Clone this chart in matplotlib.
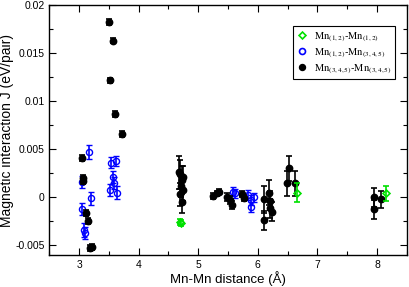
import matplotlib
matplotlib.use("Agg")
import matplotlib.pyplot as plt
from matplotlib.ticker import MultipleLocator
from matplotlib.lines import Line2D

plt.rcParams['font.family'] = ['Liberation Sans', 'DejaVu Sans']
plt.rcParams['mathtext.fontset'] = 'stix'

# Mn(1,2)-Mn(1,2): green open diamonds
g_x = [4.69, 4.71, 6.655, 8.15]
g_y = [-0.0026, -0.0027, 0.00048, 0.0004]
g_e = [0.0003, 0.0003, 0.0010, 0.0008]

# Mn(1,2)-Mn(3,4,5): blue open circles
b_x = [3.17, 3.045, 3.196, 3.045, 3.09, 3.10,
       3.536, 3.62, 3.564, 3.59, 3.52, 3.64,
       5.585, 5.625, 5.836, 5.89, 5.89, 5.93]
b_y = [0.0047, 0.0016, -0.0001, -0.0012, -0.0034, -0.0037,
       0.0036, 0.0038, 0.0021, 0.0015, 0.00076, 0.0005,
       0.0006, 0.0004, 0.00024, -0.0003, -0.0010, 0.0]
b_e = [0.0007, 0.0006, 0.0007, 0.0006, 0.0007, 0.0006,
       0.0006, 0.0005, 0.0006, 0.0006, 0.0006, 0.0007,
       0.0005, 0.0005, 0.0005, 0.0005, 0.0005, 0.0005]

# Mn(3,4,5)-Mn(3,4,5): black filled circles
k_x = [3.497, 3.57, 3.52, 3.61, 3.72,
       3.045, 3.06, 3.065, 3.12, 3.15, 3.18, 3.22,
       4.68, 4.70, 4.72, 4.74, 4.71, 4.75, 4.70, 4.72,
       5.25, 5.31, 5.345, 5.48, 5.53, 5.57, 5.74, 5.76,
       6.10, 6.10, 6.18, 6.20, 6.21, 6.245,
       6.52, 6.49, 6.63,
       7.958, 7.958, 8.07]
k_y = [0.0182, 0.0163, 0.01215, 0.0087, 0.0066,
       0.0041, 0.0020, 0.0017, -0.0016, -0.0025, -0.0053, -0.0052,
       0.0026, 0.0024, 0.0018, 0.0021, 0.0012, 0.0008, 0.0003, -0.0005,
       0.00014, 0.0004, 0.0006, 0.00006, -0.0003, -0.0008, 0.00035, -0.0001,
       -0.0002, -0.0024, 0.0005, -0.00035, -0.00115, -0.0015,
       0.0030, 0.00146, 0.00146,
       0.0, -0.00125, -0.0002]
k_e = [0.0003, 0.0003, 0.0003, 0.0003, 0.0003,
       0.0003, 0.0003, 0.0003, 0.0003, 0.0003, 0.0003, 0.0003,
       0.0017, 0.0015, 0.0015, 0.0012, 0.0012, 0.0012, 0.0012, 0.0011,
       0.0003, 0.0003, 0.0003, 0.0004, 0.0004, 0.0004, 0.0003, 0.0003,
       0.0014, 0.0010, 0.0013, 0.0010, 0.0010, 0.0010,
       0.0013, 0.0013, 0.0013,
       0.0010, 0.0010, 0.0009]

legend_labels = [r'$\mathrm{Mn}_{(1,2)}$-$\mathrm{Mn}_{(1,2)}$',
                 r'$\mathrm{Mn}_{(1,2)}$-$\mathrm{Mn}_{(3,4,5)}$',
                 r'$\mathrm{Mn}_{(3,4,5)}$-$\mathrm{Mn}_{(3,4,5)}$']

fig = plt.figure(figsize=(4.09, 2.87), dpi=100)
ax = fig.add_axes([0.1205, 0.1115, 0.874, 0.871])

ax.errorbar(k_x, k_y, yerr=k_e, fmt='o', color='black', ms=4.6,
            elinewidth=1.2, capsize=2.5, capthick=1.2, zorder=3)
ax.errorbar(b_x, b_y, yerr=b_e, fmt='o', color='#0000ff', mfc='none', mec='#0000ff',
            ms=4.4, mew=1.0, elinewidth=1.2, capsize=2.5, capthick=1.2, zorder=2)
ax.errorbar(g_x, g_y, yerr=g_e, fmt='D', color='#00e000', mfc='none', mec='#00e000',
            ms=3.5, mew=1.2, elinewidth=1.2, capsize=2.5, capthick=1.2, zorder=4)

ax.set_xlim(2.5, 8.5)
ax.set_ylim(-0.006, 0.02)
ax.xaxis.set_major_locator(MultipleLocator(1))
ax.xaxis.set_minor_locator(MultipleLocator(0.5))
ax.yaxis.set_minor_locator(MultipleLocator(0.0025))
ax.set_yticks([-0.005, 0, 0.005, 0.01, 0.015, 0.02])
ax.set_yticklabels(['-0.005', '0', '0.005', '0.01', '0.015', '0.02'])
ax.tick_params(which='both', direction='in', top=True, right=True, labelsize=7.5)
ax.tick_params(which='major', length=5, width=0.8)
ax.tick_params(which='minor', length=3, width=0.8)
for s in ax.spines.values():
    s.set_linewidth(1.0)

ax.set_xlabel('Mn-Mn distance (Å)', fontsize=9.5, labelpad=1)
ax.set_ylabel('Magnetic interaction J (eV/pair)', fontsize=10)
ax.yaxis.set_label_coords(-0.099, 0.5)

handles = [Line2D([], [], ls='none', marker='D', mfc='none', mec='#00e000', ms=3.5, mew=1.2),
           Line2D([], [], ls='none', marker='o', mfc='none', mec='#0000ff', ms=4.3, mew=1.2),
           Line2D([], [], ls='none', marker='o', color='black', ms=4.3)]
leg = ax.legend(handles, legend_labels, loc='upper right', bbox_to_anchor=(0.982, 0.935),
                fancybox=False, edgecolor='black', framealpha=1,
                prop={'size': 7.5},
                handlelength=1.0, handletextpad=0.6, labelspacing=0.25, borderpad=0.35)
leg.get_frame().set_linewidth(0.8)

fig.savefig('out.png', dpi=100)
